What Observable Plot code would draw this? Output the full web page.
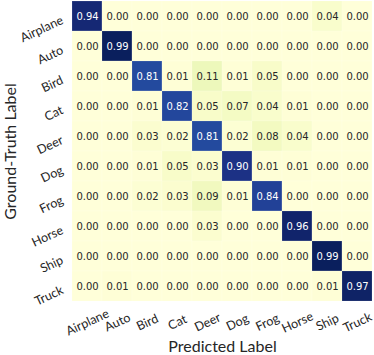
<!DOCTYPE html>
<html>
<head>
<meta charset="utf-8">
<script src="https://cdn.jsdelivr.net/npm/d3@7"></script>
<script src="https://cdn.jsdelivr.net/npm/@observablehq/plot@0.6"></script>
<style>
  html, body { margin: 0; padding: 0; background: #fff; }
  #chart { width: 374px; height: 355px; overflow: hidden; }
</style>
</head>
<body>
<div id="chart"></div>
<script>
const classes = ["Airplane", "Auto", "Bird", "Cat", "Deer", "Dog", "Frog", "Horse", "Ship", "Truck"];
const rowAirplane = [0.94, 0.00, 0.00, 0.00, 0.00, 0.00, 0.00, 0.00, 0.04, 0.00];
const rowAuto     = [0.00, 0.99, 0.00, 0.00, 0.00, 0.00, 0.00, 0.00, 0.00, 0.00];
const rowBird     = [0.00, 0.00, 0.81, 0.01, 0.11, 0.01, 0.05, 0.00, 0.00, 0.00];
const rowCat      = [0.00, 0.00, 0.01, 0.82, 0.05, 0.07, 0.04, 0.01, 0.00, 0.00];
const rowDeer     = [0.00, 0.00, 0.03, 0.02, 0.81, 0.02, 0.08, 0.04, 0.00, 0.00];
const rowDog      = [0.00, 0.00, 0.01, 0.05, 0.03, 0.90, 0.01, 0.01, 0.00, 0.00];
const rowFrog     = [0.00, 0.00, 0.02, 0.03, 0.09, 0.01, 0.84, 0.00, 0.00, 0.00];
const rowHorse    = [0.00, 0.00, 0.00, 0.00, 0.03, 0.00, 0.00, 0.96, 0.00, 0.00];
const rowShip     = [0.00, 0.00, 0.00, 0.00, 0.00, 0.00, 0.00, 0.00, 0.99, 0.00];
const rowTruck    = [0.00, 0.01, 0.00, 0.00, 0.00, 0.00, 0.00, 0.00, 0.01, 0.97];
const rows = [rowAirplane, rowAuto, rowBird, rowCat, rowDeer, rowDog, rowFrog, rowHorse, rowShip, rowTruck];

const data = [];
rows.forEach((r, i) => r.forEach((v, j) => data.push({truth: classes[i], pred: classes[j], value: v})));

const tickFont = "Lato, 'Open Sans', sans-serif";

const plot = Plot.plot({
  width: 374,
  height: 355,
  marginLeft: 71,
  marginRight: 1,
  marginTop: 0,
  marginBottom: 53,
  style: {background: "#fff", fontFamily: tickFont},
  x: {domain: classes, padding: 0, label: null, axis: null},
  y: {domain: classes, padding: 0, label: null, axis: null},
  color: {type: "linear", domain: [0, 1], interpolate: d3.interpolateYlGnBu},
  marks: [
    Plot.cell(data, {x: "pred", y: "truth", fill: "value", stroke: "#ffffff", strokeOpacity: 0.25, strokeWidth: 0.6}),
    Plot.text(data, {
      x: "pred", y: "truth",
      text: d => d.value.toFixed(2),
      fill: d => d.value > 0.5 ? "#ffffff" : "#262626",
      fontFamily: "'DejaVu Sans', sans-serif",
      fontSize: 10
    }),
    Plot.text(classes, {
      x: d => d, frameAnchor: "bottom", text: d => d,
      rotate: -25, textAnchor: "middle", lineAnchor: "middle",
      dx: 0, dy: 20, fontSize: 12.5, fill: "#262626"
    }),
    Plot.text(classes, {
      y: d => d, frameAnchor: "left", text: d => d,
      rotate: -25, textAnchor: "end", lineAnchor: "middle",
      dx: -9, dy: 3, fontSize: 12.5, fill: "#262626"
    }),
    Plot.text(["Predicted Label"], {
      frameAnchor: "bottom", dy: 44, lineAnchor: "middle", fontSize: 16, fill: "#262626"
    }),
    Plot.text(["Ground-Truth Label"], {
      frameAnchor: "left", dx: -61, rotate: -90, textAnchor: "middle", lineAnchor: "middle", fontSize: 16, fill: "#262626"
    })
  ]
});
document.getElementById("chart").appendChild(plot);
</script>
</body>
</html>
